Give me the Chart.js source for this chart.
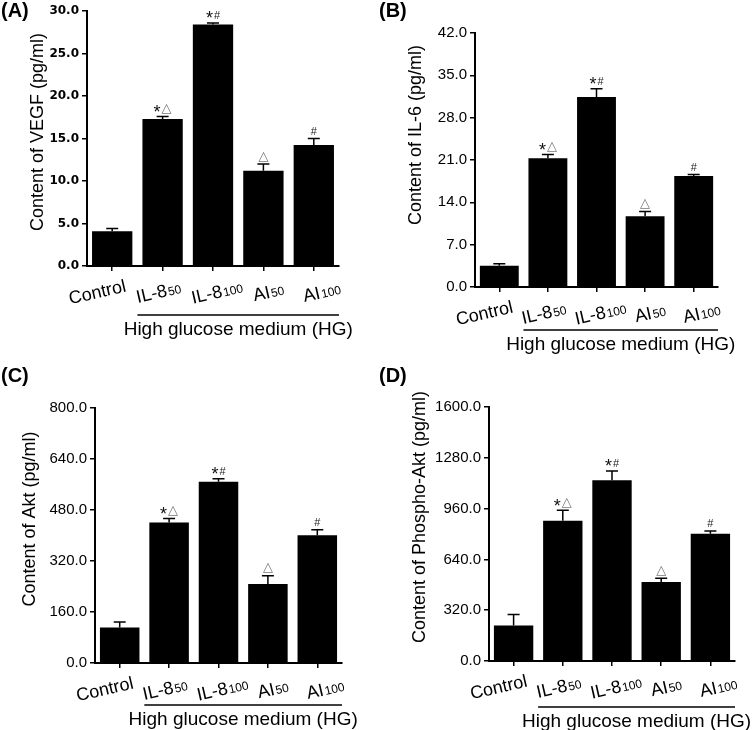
<!DOCTYPE html>
<html lang="en">
<head>
  <meta charset="UTF-8">
  <title>VEGF, IL-6, Akt and Phospho-Akt in high glucose medium</title>
  <script src="https://cdn.jsdelivr.net/npm/chart.js"></script>
  <style>
    body { margin: 0; background: #fff; }
    canvas { position: absolute; }
  </style>
</head>
<body>
  <canvas id="A" width="378" height="365" style="left:0;top:0"></canvas>
  <canvas id="B" width="378" height="365" style="left:378px;top:0"></canvas>
  <canvas id="C" width="378" height="365" style="left:0;top:365px"></canvas>
  <canvas id="D" width="378" height="365" style="left:378px;top:365px"></canvas>

  <script>
    // groups on the x axis (name + subscript dose)
    const groups = ["Control", "IL-8", "IL-8", "AI", "AI"];
    const doses = ["", "50", "100", "50", "100"];
    const marks = ["", "*△", "*#", "△", "#"];
    const hgLabel = "High glucose medium (HG)";

    // (mean and upper error)
    const vegf = [4.1, 17.3, 28.4, 11.2, 14.25];
    const vegfErr = [0.3, 0.3, 0.2, 0.8, 0.75];
    const il6 = [3.5, 21.3, 31.4, 11.7, 18.35];
    const il6Err = [0.35, 0.6, 1.4, 0.8, 0.25];
    const akt = [111, 441, 569, 248, 401];
    const aktErr = [18, 12, 9, 26, 17];
    const pakt = [224, 884, 1138, 497, 801];
    const paktErr = [69, 66, 59, 25, 18];

    // y axis ranges [max, step]
    const vegfAxis = [30, 5];
    const il6Axis = [42, 7];
    const aktAxis = [800, 160];
    const paktAxis = [1600, 320];

    const SANS = '"Liberation Sans", Arial, sans-serif';
    const W = 378, H = 365;
    const labelShift = [-15, -4, 4, 5, 8];

    const panels = [
      { id: "A", title: "Content of VEGF (pg/ml)", values: vegf, errors: vegfErr, axis: vegfAxis,
        tickFont: { family: '"DejaVu Sans"', size: 12, weight: "bold" },
        box: { left: 87, top: 11, right: 339, bottom: 266 }, titleX: 38, titleY: 132, bracketGap: 49 },
      { id: "B", title: "Content of IL-6 (pg/ml)", values: il6, errors: il6Err, axis: il6Axis,
        tickFont: { family: SANS, size: 15 },
        box: { left: 97, top: 33, right: 340, bottom: 287 }, titleX: 38, titleY: 135, bracketGap: 43 },
      { id: "C", title: "Content of Akt (pg/ml)", values: akt, errors: aktErr, axis: aktAxis,
        tickFont: { family: SANS, size: 15 },
        box: { left: 95, top: 43, right: 342, bottom: 298 }, titleX: 30, titleY: 154, bracketGap: 42 },
      { id: "D", title: "Content of Phospho-Akt (pg/ml)", values: pakt, errors: paktErr, axis: paktAxis,
        tickFont: { family: SANS, size: 15 },
        box: { left: 111, top: 42, right: 357, bottom: 296 }, titleX: 42, titleY: 152, bracketGap: 46 }
    ];

    const markStyle = {
      "*": { font: "18px " + SANS, color: "#111" },
      "#": { font: "11px " + SANS, color: "#222" },
      "△": { font: '13px "DejaVu Sans"', color: "#777" }
    };

    // draw text with its ink centred on cy
    function inkText(ctx, s, x, cy) {
      const m = ctx.measureText(s);
      ctx.fillText(s, x, cy + (m.actualBoundingBoxAscent - m.actualBoundingBoxDescent) / 2);
      return m.width;
    }

    const decor = {
      id: "decor",
      afterDraw(chart, args, p) {
        const { ctx, chartArea: a, scales: { x, y } } = chart;
        const bars = chart.getDatasetMeta(0).data;
        ctx.save();
        ctx.strokeStyle = "#000";
        ctx.fillStyle = "#000";
        ctx.lineWidth = 1.5;

        p.values.forEach((v, i) => {
          const bx = x.getPixelForValue(i);
          const y0 = y.getPixelForValue(v);
          const y1 = y.getPixelForValue(v + p.errors[i]);
          ctx.beginPath();
          ctx.moveTo(bx, y0); ctx.lineTo(bx, y1);
          ctx.moveTo(bx - 6, y1); ctx.lineTo(bx + 6, y1);
          ctx.stroke();

          // significance marks
          const chars = [...marks[i]];
          if (chars.length) {
            const widths = chars.map(c => { ctx.font = markStyle[c].font; return ctx.measureText(c).width; });
            const gap = 1;
            let cx = bx - (widths.reduce((s, w) => s + w, 0) + gap * (chars.length - 1)) / 2;
            ctx.textAlign = "left";
            ctx.textBaseline = "alphabetic";
            chars.forEach((c, k) => {
              ctx.font = markStyle[c].font;
              ctx.fillStyle = markStyle[c].color;
              inkText(ctx, c, cx, y1 - 8);
              cx += widths[k] + gap;
            });
            ctx.fillStyle = "#000";
          }

          // tilted category label with subscript dose
          ctx.save();
          ctx.translate(bx + labelShift[i], a.bottom + 26);
          ctx.rotate(-13 * Math.PI / 180);
          ctx.textBaseline = "alphabetic";
          ctx.textAlign = "left";
          ctx.font = "18px " + SANS;
          const wMain = ctx.measureText(groups[i]).width;
          ctx.font = "12px " + SANS;
          const wSub = doses[i] ? ctx.measureText(doses[i]).width + 1 : 0;
          const x0 = -(wMain + wSub) / 2;
          ctx.font = "18px " + SANS;
          ctx.fillText(groups[i], x0, 6);
          if (doses[i]) {
            ctx.font = "12px " + SANS;
            ctx.fillText(doses[i], x0 + wMain + 1, 6);
          }
          ctx.restore();
        });

        // HG bracket
        const b1 = bars[1];
        const lx = b1.x - b1.width / 2 - 5;
        const ly = a.bottom + p.bracketGap;
        ctx.lineWidth = 1.5;
        ctx.beginPath();
        ctx.moveTo(lx, ly); ctx.lineTo(a.right, ly);
        ctx.stroke();
        ctx.font = "19px " + SANS;
        ctx.textAlign = "center";
        inkText(ctx, hgLabel, (lx + a.right) / 2, ly + 15);

        // y title
        ctx.save();
        ctx.translate(p.titleX, p.titleY);
        ctx.rotate(-Math.PI / 2);
        ctx.font = "18px " + SANS;
        ctx.textAlign = "center";
        ctx.textBaseline = "middle";
        ctx.fillText(p.title, 0, 0);
        ctx.restore();

        // panel letter
        ctx.font = "bold 20px " + SANS;
        ctx.textAlign = "left";
        ctx.textBaseline = "top";
        ctx.fillText("(" + p.id + ")", 1, 1);
        ctx.restore();
      }
    };

    panels.forEach(p => {
      new Chart(document.getElementById(p.id), {
        type: "bar",
        data: {
          labels: groups.map((g, i) => g + doses[i]),
          datasets: [{
            data: p.values,
            backgroundColor: "#000",
            borderWidth: 0,
            barPercentage: 0.8,
            categoryPercentage: 1
          }]
        },
        options: {
          responsive: false,
          animation: false,
          layout: { padding: { left: 0, top: p.box.top, right: W - p.box.right, bottom: 0 } },
          plugins: {
            legend: { display: false },
            tooltip: { enabled: false },
            decor: p
          },
          scales: {
            x: {
              ticks: { display: false },
              grid: { offset: false, drawOnChartArea: false, tickLength: 5, color: "#000", lineWidth: 1.5 },
              border: { color: "#000", width: 2 },
              afterFit: s => { s.height = H - p.box.bottom; }
            },
            y: {
              min: 0,
              max: p.axis[0],
              ticks: {
                stepSize: p.axis[1],
                color: "#000",
                padding: 3,
                font: p.tickFont,
                callback: v => v.toFixed(1)
              },
              grid: { drawOnChartArea: false, tickLength: 5, color: "#000", lineWidth: 1.5 },
              border: { color: "#000", width: 2 },
              afterFit: s => { s.width = p.box.left; }
            }
          }
        },
        plugins: [decor]
      });
    });
  </script>
</body>
</html>
